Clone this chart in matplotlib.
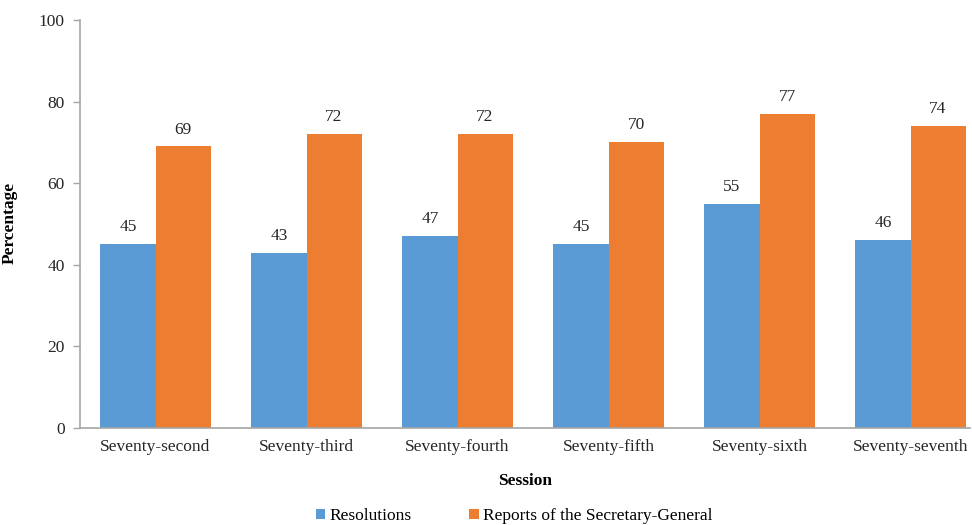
import numpy as np
import matplotlib.pyplot as plt

plt.rcParams['font.family'] = ['Liberation Serif', 'DejaVu Serif']

sessions = ['Seventy-second', 'Seventy-third', 'Seventy-fourth',
            'Seventy-fifth', 'Seventy-sixth', 'Seventy-seventh']
resolutions = [45, 43, 47, 45, 55, 46]
reports = [69, 72, 72, 70, 77, 74]

blue = '#5B9BD5'
orange = '#ED7D31'
fs = 12.5

fig = plt.figure(figsize=(9.72, 5.25), dpi=100)
ax = fig.add_axes([80/972, 1 - 428/525, 890/972, 408/525])

x = np.arange(len(sessions))
w = 0.365
b1 = ax.bar(x - w/2, resolutions, w, color=blue, label='Resolutions')
b2 = ax.bar(x + w/2, reports, w, color=orange, label='Reports of the Secretary-General')

for bars in (b1, b2):
    for r in bars:
        ax.text(r.get_x() + r.get_width()/2, r.get_height() + 2.2, str(int(r.get_height())),
                ha='center', va='bottom', fontsize=fs, color='#262626')

ax.set_xlim(-0.5, -0.5 + 890/151)
ax.set_ylim(0, 100)
ax.set_yticks(range(0, 101, 20))
ax.set_xticks(x)
ax.set_xticklabels(sessions)
ax.tick_params(axis='x', length=0, pad=8, labelsize=fs, labelcolor='#262626')
ax.tick_params(axis='y', length=5, width=1, color='#A6A6A6', pad=6, labelsize=fs, labelcolor='#262626')

for s in ['top', 'right']:
    ax.spines[s].set_visible(False)
for s in ['left', 'bottom']:
    ax.spines[s].set_color('#A6A6A6')
    ax.spines[s].set_linewidth(1.2)

ax.set_xlabel('Session', fontweight='bold', fontsize=fs)
ax.xaxis.set_label_coords((525 - 80)/890, -(473 - 428)/408)
ax.set_ylabel('Percentage', fontweight='bold', fontsize=fs)
ax.yaxis.set_label_coords(-(80 - 18)/890, (428 - 223)/408)

fig.legend(handles=[b1, b2], loc='center', bbox_to_anchor=(514/972, 1 - 516/525),
           ncol=2, frameon=False, fontsize=fs, handlelength=0.55, handleheight=0.55,
           handletextpad=0.25, columnspacing=3.3)

fig.savefig('out.png', dpi=100)
